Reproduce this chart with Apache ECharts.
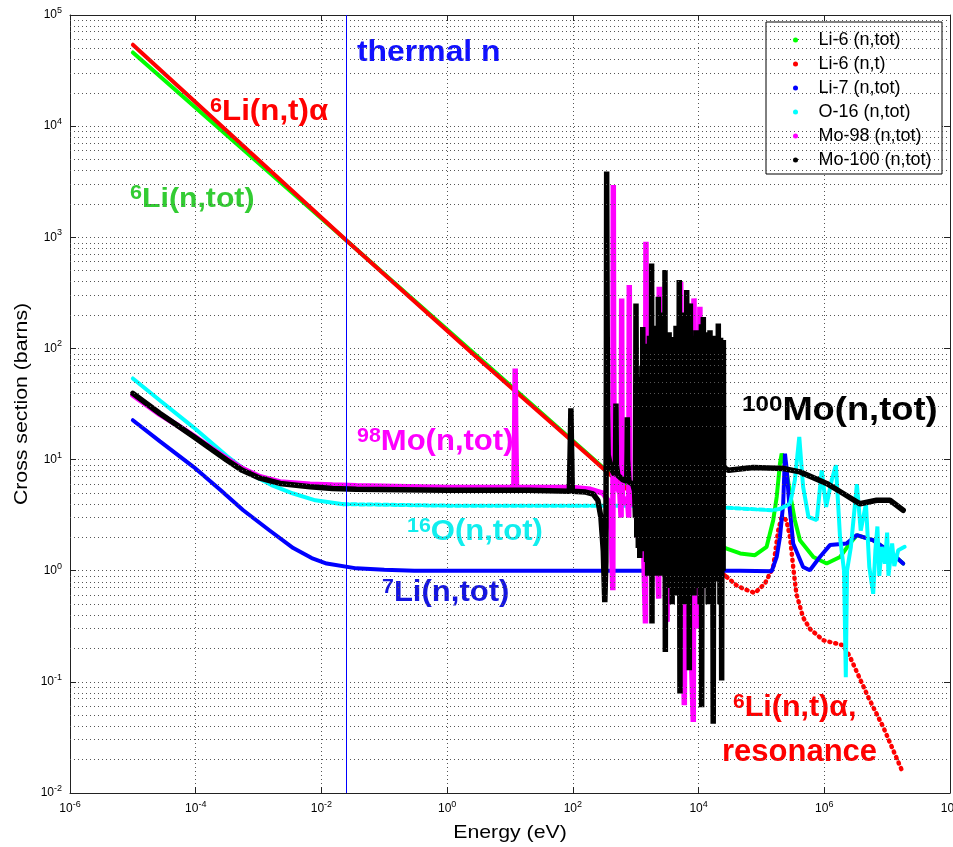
<!DOCTYPE html>
<html>
<head>
<meta charset="utf-8">
<script src="https://cdn.jsdelivr.net/npm/echarts@6/dist/echarts.min.js"></script>
<style>
  html, body { margin: 0; background: #fff; }
  #chart { width: 953px; height: 847px; }
</style>
</head>
<body>
<div id="chart"></div>
<script>
// axis ticks (exponents of 10)
const xTickExp = [-6, -4, -2, 0, 2, 4, 6, 8]
const yTickExp = [-2, -1, 0, 1, 2, 3, 4, 5]
const thermalE = 0.0253

// [energy eV, cross section barns]
const li6Tot = [
  [1e-5, 4.6e4], [0.0253, 930], [1, 148], [100, 14.8], [324, 8.2], [1170, 4.6], [3500, 3.05],
  [2.8e4, 1.58], [4.6e4, 1.43], [7.9e4, 1.38], [1.21e5, 1.64], [1.54e5, 2.85], [1.75e5, 4.6],
  [1.97e5, 9.2], [2.1e5, 11.3], [2.5e5, 8.0], [2.85e5, 4.95], [3.4e5, 2.85], [4.1e5, 1.88],
  [6.7e5, 1.33], [1.09e6, 1.16], [1.78e6, 1.33], [2.56e6, 1.76], [3.3e6, 2.09], [6.0e6, 1.88],
  [1.11e7, 1.48], [1.8e7, 1.16]
]
const li6NT = [
  [1e-5, 5.4e4], [0.0253, 930], [3.3, 78.5], [187, 10.6], [324, 8.0], [1170, 4.3], [3500, 2.5],
  [2.8e4, 0.88]
]
const li6NTres = [
  [2.8e4, 0.88], [4e4, 0.74], [5.1e4, 0.69], [7.9e4, 0.63], [1.14e5, 0.77], [1.54e5, 1.08],
  [1.85e5, 2.3], [2.1e5, 3.05], [2.5e5, 2.85], [2.85e5, 2.0], [3.2e5, 1.08], [3.6e5, 0.62],
  [4.6e5, 0.38], [5.9e5, 0.30], [9.6e5, 0.237], [2.0e6, 0.213], [2.56e6, 0.168], [5.0e6, 0.073],
  [8.7e6, 0.039], [1.8e7, 0.015]
]
const li7Tot = [
  [1e-5, 22.6], [2.7e-5, 14.6], [9.2e-5, 8.6], [2.5e-4, 5.3], [5.7e-4, 3.5], [1.5e-3, 2.3],
  [3.56e-3, 1.6], [7e-3, 1.3], [0.0121, 1.16], [0.036, 1.05], [0.1, 1.02], [0.3, 1.0], [1000, 1.0],
  [4.6e4, 1.0], [1.46e5, 0.99], [1.75e5, 1.33], [1.97e5, 2.0], [2.22e5, 4.0], [2.37e5, 11.3],
  [2.5e5, 8.6], [2.77e5, 4.0], [3.2e5, 1.76], [4.6e5, 1.08], [5.9e5, 1.01], [8.5e5, 1.33],
  [1.23e6, 1.7], [2.27e6, 1.76], [3.3e6, 2.09], [6.0e6, 1.88], [1.11e7, 1.48], [1.8e7, 1.16]
]
const o16Low = [
  [1e-5, 53.7], [2.7e-5, 34], [9.2e-5, 19.5], [3.1e-4, 10.8], [5e-4, 8.8], [8.2e-4, 7.2],
  [1.6e-3, 5.9], [3.56e-3, 4.95], [8e-3, 4.3], [0.0223, 3.97]
]
const o16Mid = [
  [0.0223, 3.97], [1, 3.85], [1000, 3.85], [1e4, 3.8], [4.6e4, 3.63], [1.46e5, 3.5], [1.97e5, 3.6]
]
const o16High = [
  [1.97e5, 3.6], [2.85e5, 4.0], [3.4e5, 6.5], [4.0e5, 16], [4.6e5, 5.7], [5.6e5, 3.05], [7.6e5, 2.85],
  [9.1e5, 8.0], [1.07e6, 3.75], [1.31e6, 6.5], [1.53e6, 8.9], [1.78e6, 2.0], [2.06e6, 1.0],
  [2.2e6, 0.11], [2.3e6, 1.0], [2.65e6, 1.64], [3.3e6, 6.0], [3.8e6, 2.3], [4.6e6, 4.0], [5.2e6, 1.08],
  [6.0e6, 0.62], [6.5e6, 1.53], [7.0e6, 2.5], [7.5e6, 0.9], [8.2e6, 1.64], [9.2e6, 1.16],
  [1.0e7, 2.2], [1.05e7, 0.9], [1.2e7, 1.76], [1.3e7, 1.1], [1.5e7, 1.53], [1.9e7, 1.64]
]
const mo98Tot = [
  [1e-5, 38], [2.7e-5, 25.5], [5e-5, 20.5], [9.2e-5, 16.4], [1.8e-4, 12.6], [3.1e-4, 10.2],
  [5.5e-4, 8.3], [1.05e-3, 7.0], [2.2e-3, 6.3], [6.6e-3, 6.0], [0.015, 5.9], [0.036, 5.8], [1, 5.6],
  [11.5, 5.6], [11.9, 20], [12.1, 66], [12.3, 20], [12.7, 5.6], [100, 5.6],
  [190, 5.4], [300, 5.0], [360, 4.3], [410, 2.2], [432, 0.667], [437, 100], [440, 2950], [445, 100],
  [455, 12], [480, 6], [560, 5.0], [585, 3], [594, 50], [598, 282], [603, 30], [615, 4], [740, 4.5],
  [775, 3], [785, 50], [790, 372], [797, 30], [810, 4], [1000, 4], [1080, 2], [1120, 25], [1160, 3],
  [1300, 3], [1430, 0.335], [1450, 300], [1456, 912], [1470, 50], [1500, 3], [1750, 3.5], [1950, 2],
  [2050, 45], [2150, 2.5], [2320, 0.56], [2370, 359], [2420, 3], [2650, 25], [2900, 2], [3150, 0.346],
  [3400, 40], [3600, 110], [3800, 1], [4300, 65], [4700, 1], [5190, 398], [5500, 1.5], [5930, 0.0615],
  [6300, 55], [6860, 254], [7300, 0.5], [8240, 0.0436], [8450, 282], [9000, 0.4], [9600, 85],
  [10000, 0.3], [10500, 237], [11000, 0.5], [12000, 6], [14000, 7]
]
const mo100Tot = [
  [1e-5, 39.4], [2.7e-5, 26], [5e-5, 20.5], [9.2e-5, 16.1], [1.8e-4, 12.3], [3.1e-4, 9.9],
  [5.5e-4, 8.0], [1.05e-3, 6.8], [2.2e-3, 6.1], [6.6e-3, 5.7], [0.015, 5.5], [0.036, 5.4], [1, 5.3],
  [20, 5.3], [88, 5.2], [91, 14], [93, 29], [95, 14], [98, 5.2], [160, 5.1],
  [210, 4.9], [250, 4.3], [280, 3.0], [305, 1.5], [322, 0.52], [335, 1.2], [342, 100], [345, 3900],
  [350, 300], [356, 30], [365, 11], [400, 8.5], [460, 7.3], [478, 10], [485, 32], [492, 9], [520, 7.2],
  [620, 6.6], [720, 6.4], [730, 12], [735, 24], [742, 10], [780, 6.3], [900, 6], [960, 5.2], [990, 3],
  [1010, 254], [1040, 2], [1070, 40], [1100, 1.6], [1130, 45], [1160, 1.3], [1195, 55], [1225, 2],
  [1255, 70], [1270, 2.66], [1295, 156], [1320, 2.5], [1350, 60], [1375, 1.5], [1400, 85], [1430, 1.8],
  [1460, 75], [1490, 1.2], [1520, 110], [1550, 0.9], [1585, 80], [1620, 1.4], [1655, 130], [1690, 1.1],
  [1725, 90], [1760, 1.5], [1790, 582], [1815, 0.335], [1845, 70], [1880, 1.2], [1915, 95], [1955, 1.1],
  [2000, 80], [2040, 1.3], [2080, 160], [2120, 0.9], [2165, 75], [2210, 1.4], [2250, 120], [2270, 1.0],
  [2290, 292], [2330, 1.4], [2380, 90], [2420, 1.1], [2470, 110], [2520, 0.9], [2570, 85], [2620, 1.3],
  [2670, 130], [2720, 1.0], [2760, 210], [2810, 1.2], [2865, 90], [2895, 1.0], [2920, 507], [2960, 0.186],
  [3020, 85], [3080, 1.0], [3140, 95], [3200, 0.7], [3270, 80], [3330, 1.2], [3400, 140], [3470, 0.9],
  [3540, 90], [3610, 1.0], [3670, 110], [3700, 0.8], [3730, 127], [3800, 0.5], [3880, 90], [3960, 1.0],
  [4040, 105], [4120, 0.9], [4200, 95], [4290, 1.2], [4380, 160], [4470, 0.8], [4560, 100], [4640, 0.6],
  [4740, 130], [4830, 0.9], [4930, 412], [5060, 0.0785], [5160, 90], [5260, 1.0], [5360, 125], [5470, 0.7],
  [5580, 100], [5690, 1.1], [5800, 210], [5920, 0.8], [6040, 110], [6160, 0.5], [6290, 130], [6400, 1.0],
  [6470, 335], [6600, 0.8], [6730, 110], [6870, 1.1], [7000, 150], [7120, 0.127], [7250, 120], [7330, 1.0],
  [7400, 254], [7550, 0.9], [7700, 100], [7850, 1.1], [8000, 130], [8160, 0.8], [8320, 110], [8490, 0.6],
  [8660, 120], [8830, 1.0], [9100, 146], [9300, 0.8], [9500, 100], [9700, 0.9], [9900, 115], [10100, 0.7],
  [10300, 120], [10600, 0.5], [10800, 100], [11000, 0.9], [11100, 165], [11200, 0.059], [11500, 110],
  [11700, 0.8], [11900, 192], [12200, 0.9], [12500, 110], [12800, 0.7], [13200, 140], [13500, 0.9],
  [13900, 105], [14200, 0.5], [14500, 125], [14800, 0.8], [15200, 146], [15600, 0.6], [16000, 100],
  [16300, 0.9], [16600, 110], [17100, 0.042], [17600, 130], [18000, 0.9], [18400, 100], [18900, 0.8],
  [19400, 115], [19800, 0.9], [20200, 120], [20400, 1.0], [20600, 168], [21000, 0.9], [21400, 110],
  [21900, 0.5], [22400, 125], [22800, 0.9], [23000, 105], [23300, 0.103], [23700, 110], [24000, 1.2],
  [24400, 105], [24600, 1.0], [24800, 119], [25000, 8.5], [3.0e4, 8.0], [7.4e4, 8.5], [2.22e5, 8.3],
  [4.1e5, 7.75], [1.09e6, 6.1], [2.0e6, 4.95], [3.7e6, 4.0], [6.8e6, 4.3], [1.11e7, 4.3], [1.8e7, 3.5]
]

const FONT = '"Liberation Sans", Arial, sans-serif'
const toLog = arr => arr.map(p => [Math.log10(p[0]), Math.log10(p[1])])

const minorY = []
for (let n = yTickExp[0]; n < yTickExp[yTickExp.length - 1]; n++) {
  for (let k = 2; k < 10; k++) minorY.push({ yAxis: n + Math.log10(k) })
}

const gridLine = { show: true, lineStyle: { color: '#555', type: [1, 3], width: 1 } }
const tickLabel = {
  color: '#000',
  formatter: v => '{b|10}{e|' + v + '}',
  rich: {
    b: { fontSize: 12, fontFamily: FONT, color: '#000' },
    e: { fontSize: 9, fontFamily: FONT, color: '#000', padding: [0, 0, 9, 0] }
  }
}
const axisBase = {
  type: 'value',
  axisLine: { show: true, onZero: false, lineStyle: { color: '#222', width: 1 } },
  axisTick: { show: true, inside: true, length: 6, lineStyle: { color: '#222' } },
  splitLine: gridLine
}

function line(name, data, color, width, type) {
  return {
    name, type: 'line', data: toLog(data), showSymbol: false, symbol: 'circle',
    lineStyle: { color, width, type: type || 'solid', cap: 'round' }, itemStyle: { color },
    z: 2, animation: false
  }
}

// annotation with a superscript before the main text
function note(x, y, sup, main, color, size, supSize, sx) {
  return {
    type: 'text', x, y, scaleX: sx, z: 5,
    style: {
      text: (sup ? '{s|' + sup + '}' : '') + '{m|' + main + '}',
      fill: color, verticalAlign: 'middle',
      rich: {
        s: { fontSize: supSize, fontWeight: 'bold', fontFamily: FONT, fill: color, padding: [0, 0, Math.round(size * 0.4), 0] },
        m: { fontSize: size, fontWeight: 'bold', fontFamily: FONT, fill: color }
      }
    }
  }
}

const chart = echarts.init(document.getElementById('chart'))
chart.setOption({
  backgroundColor: '#fff',
  animation: false,
  grid: { left: 70, right: 3, top: 15, bottom: 54, containLabel: false, outerBoundsMode: 'none' },
  xAxis: [
    Object.assign({}, axisBase, {
      min: xTickExp[0], max: xTickExp[xTickExp.length - 1], interval: 2,
      axisLabel: Object.assign({ margin: 7, showMaxLabel: true, showMinLabel: true }, tickLabel)
    }),
    Object.assign({}, axisBase, {
      position: 'top', min: xTickExp[0], max: xTickExp[xTickExp.length - 1], interval: 2,
      axisLabel: { show: false }, splitLine: { show: false }
    })
  ],
  yAxis: [
    Object.assign({}, axisBase, {
      min: yTickExp[0], max: yTickExp[yTickExp.length - 1], interval: 1,
      axisLabel: Object.assign({ margin: 8 }, tickLabel)
    }),
    Object.assign({}, axisBase, {
      position: 'right', min: yTickExp[0], max: yTickExp[yTickExp.length - 1], interval: 1,
      axisLabel: { show: false }, splitLine: { show: false }
    })
  ],
  legend: {
    data: ['Li-6 (n,tot)', 'Li-6 (n,t)', 'Li-7 (n,tot)', 'O-16 (n,tot)', 'Mo-98 (n,tot)', 'Mo-100 (n,tot)'],
    orient: 'vertical', left: 793, top: 28, padding: 0, itemGap: 0,
    icon: 'circle', itemWidth: 36, itemHeight: 5, z: 6,
    textStyle: { fontSize: 18, fontFamily: FONT, color: '#000', lineHeight: 24 }
  },
  graphic: [
    { type: 'rect', z: 4, shape: { x: 766, y: 22, width: 176, height: 152 },
      style: { fill: '#fff', stroke: '#000', lineWidth: 1 } },
    { type: 'text', x: 510, y: 833, scaleX: 1.12, z: 5,
      style: { text: 'Energy (eV)', font: '19px ' + FONT, fill: '#000', align: 'center', verticalAlign: 'middle' } },
    { type: 'text', x: 22, y: 404, rotation: Math.PI / 2, scaleX: 1.12, z: 5,
      style: { text: 'Cross section (barns)', font: '19px ' + FONT, fill: '#000', align: 'center', verticalAlign: 'middle' } },
    note(357, 53, '', 'thermal n', '#1010ff', 29, 20, 1.1),
    note(210, 112, '6', 'Li(n,t)α', '#ff0000', 29, 20, 1.08),
    note(130, 199, '6', 'Li(n,tot)', '#33cc33', 28, 20, 1.08),
    note(357, 442, '98', 'Mo(n,tot)', '#ff00ff', 29, 20, 1.07),
    note(407, 532, '16', 'O(n,tot)', '#11eeee', 29, 20, 1.07),
    note(382, 593, '7', 'Li(n,tot)', '#1515e0', 29, 20, 1.07),
    note(742, 411, '100', 'Mo(n,tot)', '#000000', 33, 22, 1.1),
    note(733, 708, '6', 'Li(n,t)α,', '#ff0000', 29, 20, 1.05),
    note(722, 752, '', 'resonance', '#ff0000', 31, 20, 1.0)
  ],
  series: [
    {
      type: 'line', data: [[xTickExp[0], yTickExp[0]]], showSymbol: false, silent: true, z: 1,
      lineStyle: { opacity: 0 },
      markLine: {
        silent: true, symbol: ['none', 'none'], label: { show: false }, animation: false,
        lineStyle: { color: '#555', type: [1, 3], width: 1 },
        data: minorY.concat([{ xAxis: Math.log10(thermalE), lineStyle: { color: '#0000ff', type: 'solid', width: 1 } }])
      }
    },
    line('Li-6 (n,tot)', li6Tot, '#00ff00', 4),
    line('Li-6 (n,t)', li6NT, '#ff0000', 4),
    line('Li-6 (n,t)', li6NTres, '#ff0000', 4.5, [1, 5]),
    line('Li-7 (n,tot)', li7Tot, '#0000ff', 4),
    line('O-16 (n,tot)', o16Low, '#00ffff', 4),
    line('O-16 (n,tot)', o16Mid, '#00ffff', 4, [5, 3]),
    line('O-16 (n,tot)', o16High, '#00ffff', 4),
    line('Mo-98 (n,tot)', mo98Tot, '#ff00ff', 5.5),
    line('Mo-100 (n,tot)', mo100Tot, '#000000', 5.5)
  ]
})
</script>
</body>
</html>
